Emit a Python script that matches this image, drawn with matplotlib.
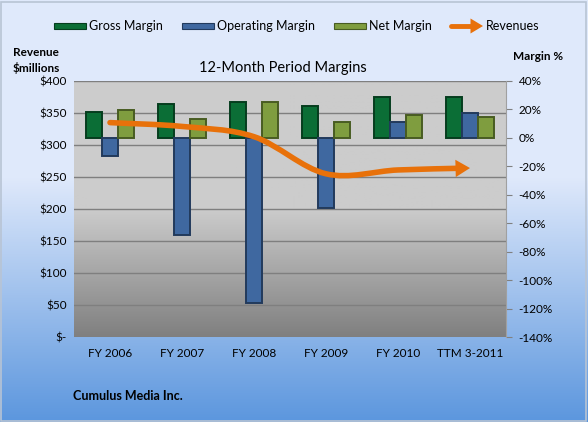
import matplotlib
matplotlib.use("Agg")
import matplotlib.pyplot as plt
import numpy as np
from matplotlib.lines import Line2D
from matplotlib.path import Path
from matplotlib.patches import FancyArrowPatch, PathPatch, Rectangle

plt.rcParams["font.family"] = ["Lato", "DejaVu Sans"]

periods = ["FY 2006", "FY 2007", "FY 2008", "FY 2009", "FY 2010", "TTM 3-2011"]
gross_margin = [18, 23.5, 25, 22.5, 28.5, 28.5]
operating_margin = [-12.5, -68, -116, -49, 11, 17.5]
net_margin = [19.5, 13.5, 25, 11, 16, 15]
revenues = [335, 329, 313, 255, 261, 264]

rev_ticks = [0, 50, 100, 150, 200, 250, 300, 350, 400]
rev_labels = ["$-", "$50", "$100", "$150", "$200", "$250", "$300", "$350", "$400"]
margin_ticks = list(range(-140, 41, 20))

GREEN = "#0B6E36"
BLUE = "#3F68A0"
OLIVE = "#7F9D3F"
ORANGE = "#E8710A"

W, H = 588, 422
fig = plt.figure(figsize=(W / 100, H / 100), dpi=100)

# figure background gradient (light blue top -> stronger blue bottom)
bg = fig.add_axes([0, 0, 1, 1], zorder=-10)
yy = np.linspace(0, 1, 256)
t = np.clip((yy - 0.42) / 0.58, 0, 1)
top = np.array([0.875, 0.914, 0.985])
bot = np.array([0.36, 0.59, 0.87])
grad = top[None, :] * (1 - t[:, None]) + bot[None, :] * t[:, None]
bg.imshow(grad[:, None, :], aspect="auto", extent=[0, 1, 0, 1], origin="upper")
bg.add_patch(Rectangle((0.002, 0.003), 0.995, 0.993, fill=False,
                       edgecolor="#B8C4D4", lw=1.2, transform=bg.transAxes))
bg.set_axis_off()

ax = fig.add_axes([74 / W, 1 - 337 / H, 432 / W, 256 / H])
ax2 = ax.twinx()

# plot area gradient (light gray top -> darker gray bottom)
t2 = np.clip((yy - 0.5) / 0.5, 0, 1)
g = 0.80 * (1 - t2) + 0.50 * t2
ax.imshow(np.repeat(g[:, None, None], 3, axis=2), aspect="auto",
          extent=[-0.5, len(periods) - 0.5, 0, 400], origin="upper", zorder=0)

ax.set_xlim(-0.5, len(periods) - 0.5)
ax.set_ylim(0, 400)
ax.set_yticks(rev_ticks)
ax.set_yticklabels(rev_labels)
ax.yaxis.grid(True, color="#7F7F7F", lw=1)
ax.set_axisbelow(True)
ax.set_xticks(range(len(periods)))
ax.set_xticklabels(periods)
ax.tick_params(axis="both", length=0, labelsize=8.5, pad=8)
ax.tick_params(axis="y", pad=5)
for s in ax.spines.values():
    s.set_visible(False)

x = np.arange(len(periods))
bw = 1 / 4.5
for off, vals, col, edge in [(-bw, gross_margin, GREEN, "#053D1E"),
                             (0, operating_margin, BLUE, "#223A5C"),
                             (bw, net_margin, OLIVE, "#485C22")]:
    ax2.bar(x + off, vals, width=bw, color=col, edgecolor=edge, lw=1.4, zorder=3)

ax2.set_ylim(-140, 40)
ax2.set_yticks(margin_ticks)
ax2.set_yticklabels([f"{v}%" for v in margin_ticks])
ax2.tick_params(axis="y", length=4, color="#808080", labelsize=8.5, pad=5)
for s in ax2.spines.values():
    s.set_visible(False)
ax2.spines["right"].set_visible(True)
ax2.spines["right"].set_color("#A0A0A0")

# smoothed revenue line (Catmull-Rom through the points) with an arrow head
pts = np.column_stack([x, revenues]).astype(float)
ext = np.vstack([pts[0] - (pts[1] - pts[0]), pts, pts[-1] + (pts[-1] - pts[-2])])
verts = [tuple(pts[0])]
codes = [Path.MOVETO]
for i in range(1, len(ext) - 2):
    p0, p1, p2, p3 = ext[i - 1], ext[i], ext[i + 1], ext[i + 2]
    verts += [tuple(p1 + (p2 - p0) / 6), tuple(p2 - (p3 - p1) / 6), tuple(p2)]
    codes += [Path.CURVE4] * 3
curve = PathPatch(Path(verts, codes), fill=False, edgecolor=ORANGE, lw=4,
                  capstyle="round", transform=ax.transData, zorder=5)
ax2.add_patch(curve)
# stop the stroke just short of the tip so the head stays sharp
clip = Rectangle((-0.5, 0), len(periods) - 1 + 0.5 - 0.12, 400, transform=ax.transData)
curve.set_clip_path(clip)
head = FancyArrowPatch(verts[-2], verts[-1], arrowstyle="-|>,head_length=0.8,head_width=0.48",
                       mutation_scale=13, lw=0, color=ORANGE, shrinkA=0, shrinkB=0,
                       transform=ax.transData, zorder=6)
ax2.add_patch(head)

# texts
fig.text(283 / W, 1 - 68 / H, "12-Month Period Margins", ha="center", va="center", fontsize=10.5)
fig.text(13 / W, 1 - 60 / H, "Revenue\n$millions", ha="left", va="center",
         fontsize=8.5, fontweight="bold", linespacing=1.4)
fig.text(513 / W, 1 - 57 / H, "Margin %", ha="left", va="center", fontsize=8.5, fontweight="bold")
fig.text(73 / W, 1 - 396 / H, "Cumulus Media Inc.", ha="left", va="center",
         fontsize=9, fontweight="bold")

# legend
ly = 1 - 26 / H
for x0, col, edge, label in [(54, GREEN, "#053D1E", "Gross Margin"),
                             (182, BLUE, "#223A5C", "Operating Margin"),
                             (334, OLIVE, "#485C22", "Net Margin")]:
    fig.patches.append(Rectangle((x0 / W, ly - 3 / H), 32 / W, 6 / H, facecolor=col,
                                 edgecolor=edge, lw=0.8, transform=fig.transFigure))
    fig.text((x0 + 35) / W, ly, label, ha="left", va="center", fontsize=9)
fig.lines.append(Line2D([451 / W, 474 / W], [ly, ly], lw=3.5, color=ORANGE,
                        solid_capstyle="round", transform=fig.transFigure))
fig.patches.append(FancyArrowPatch((462 / W, ly), (483 / W, ly),
                                   arrowstyle="-|>,head_length=1.0,head_width=0.6",
                                   mutation_scale=9, lw=0, color=ORANGE,
                                   shrinkA=0, shrinkB=0, transform=fig.transFigure))
fig.text(486 / W, ly, "Revenues", ha="left", va="center", fontsize=9)

fig.savefig("out.png", dpi=100)
